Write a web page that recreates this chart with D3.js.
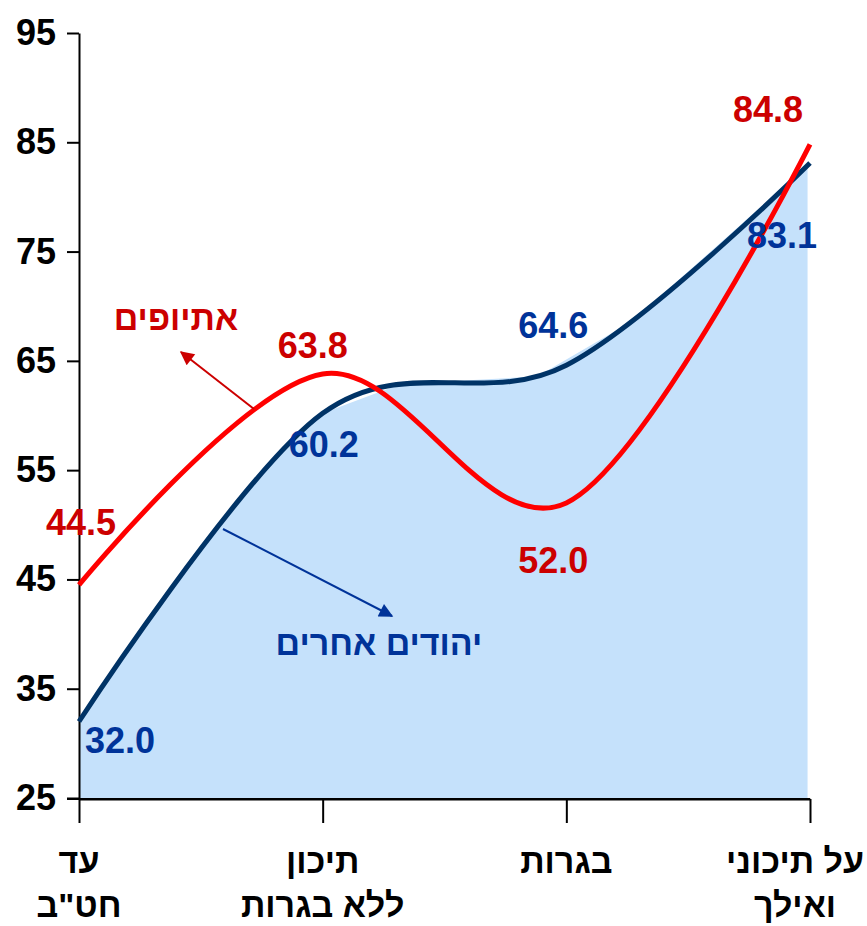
<!DOCTYPE html>
<html>
<head>
<meta charset="utf-8">
<script src="https://cdn.jsdelivr.net/npm/d3@7"></script>
<style>
  body { margin: 0; background: #fff; }
  svg { display: block; font-family: "Liberation Sans", Arial, sans-serif; font-weight: bold; }
</style>
</head>
<body>
<div id="chart"></div>
<script>
// Data
var categories = ['עד חט"ב', 'תיכון ללא בגרות', 'בגרות', 'על תיכוני ואילך'];
var categoryLines = [['עד', 'חט"ב'], ['תיכון', 'ללא בגרות'], ['בגרות'], ['על תיכוני', 'ואילך']];
var ethiopians = [44.5, 63.8, 52.0, 84.8];
var otherJews = [32.0, 60.2, 64.6, 83.1];
var yTicks = [25, 35, 45, 55, 65, 75, 85, 95];
var seriesNames = ['אתיופים', 'יהודים אחרים'];

// Setup
var width = 867, height = 926;
var x0 = 79, x1 = 810, yTop = 33, yBottom = 798;
var numFont = '36px', hebFont = '34px';

var svg = d3.select('#chart')
  .append('svg')
  .attr('width', width)
  .attr('height', height);

var x = d3.scalePoint()
  .domain(categories)
  .range([x0, x1])
  .padding(0);

var y = d3.scaleLinear()
  .domain([25, 95])
  .range([yBottom, yTop]);

// arrow heads
var defs = svg.append('defs');
[['arrowRed', '#cc0000'], ['arrowBlue', '#003399']].forEach(function(a){
  defs.append('marker')
    .attr('id', a[0])
    .attr('viewBox', '0 0 10 10')
    .attr('refX', 9).attr('refY', 5)
    .attr('markerWidth', 16).attr('markerHeight', 14)
    .attr('markerUnits', 'userSpaceOnUse')
    .attr('orient', 'auto')
    .append('path')
    .attr('d', 'M0,0L10,5L0,10Z')
    .attr('fill', a[1]);
});

var line = d3.line()
  .x(function(d,i){ return x(categories[i]); })
  .y(function(d){ return y(d); })
  .curve(d3.curveCardinal.tension(0));

// hidden copy of the blue curve, used to place the area's corners on it
var guide = svg.append('path')
  .attr('d', line(otherJews))
  .attr('fill', 'none')
  .attr('stroke', 'none')
  .node();

function curveYAt(px) {
  var lo = 0, hi = guide.getTotalLength();
  for (var k = 0; k < 40; k++) {
    var mid = (lo + hi) / 2;
    if (guide.getPointAtLength(mid).x < px) lo = mid; else hi = mid;
  }
  return guide.getPointAtLength(lo).y;
}

// the original area is a coarse polygon laid on the smooth curve
var areaKnots = [0, 0.15, 0.3, 0.45, 0.6, 0.75, 0.9, 1, 1.32, 1.88, 2.27, 2.99];
var step = x(categories[1]) - x(categories[0]);

var area = d3.area()
  .x(function(k){ return x0 + k * step; })
  .y0(y(25))
  .y1(function(k){ return curveYAt(x0 + k * step); })
  .curve(d3.curveLinear);

svg.append('path')
  .attr('d', area(areaKnots))
  .attr('fill', '#c5e1fb');

// Axes
var yAxis = d3.axisLeft(y)
  .tickValues(yTicks)
  .tickSize(12)
  .tickSizeOuter(0)
  .tickPadding(11);

var gy = svg.append('g')
  .attr('transform', 'translate(' + x0 + ',0)')
  .call(yAxis);
gy.select('.domain').attr('stroke', '#000').attr('stroke-width', 2);
gy.selectAll('.tick line').attr('stroke', '#000').attr('stroke-width', 2);
gy.selectAll('.tick text')
  .attr('fill', '#000')
  .style('font-size', numFont)
  .style('font-weight', 'bold')
  .style('font-family', '"Liberation Sans", Arial, sans-serif');

var xAxis = d3.axisBottom(x)
  .tickSize(24)
  .tickSizeOuter(0)
  .tickFormat('');

var gx = svg.append('g')
  .attr('transform', 'translate(0,' + (yBottom + 1) + ')')
  .call(xAxis);
gx.select('.domain').attr('stroke', '#000').attr('stroke-width', 2);
gx.selectAll('.tick line').attr('stroke', '#000').attr('stroke-width', 2);

// extend x axis line to the left tick
svg.append('line')
  .attr('x1', x0 - 12).attr('x2', x1)
  .attr('y1', yBottom + 1).attr('y2', yBottom + 1)
  .attr('stroke', '#000').attr('stroke-width', 2);

// Category labels (two lines, clamped so they stay on the page)
var catLabels = svg.selectAll('.cat-label')
  .data(categoryLines)
  .enter()
  .append('text')
  .attr('class', 'cat-label')
  .attr('direction', 'rtl')
  .attr('text-anchor', 'middle')
  .style('font-size', hebFont)
  .attr('fill', '#000');

catLabels.each(function(lines, i){
  var t = d3.select(this);
  lines.forEach(function(l, j){
    t.append('tspan')
      .attr('y', 873 + j * 44)
      .text(l);
  });
  var w = d3.max(t.selectAll('tspan').nodes(), function(n){ return n.getComputedTextLength(); });
  var cx = Math.min(x(categories[i]), width - 3 - w / 2);
  t.selectAll('tspan').attr('x', cx);
});

// Lines
svg.append('path')
  .attr('d', line(otherJews))
  .attr('fill', 'none')
  .attr('stroke', '#003366')
  .attr('stroke-width', 5);

svg.append('path')
  .attr('d', line(ethiopians))
  .attr('fill', 'none')
  .attr('stroke', '#ff0000')
  .attr('stroke-width', 5);

// Value labels: offset of the label (center, baseline) from its point
var redOffsets = [[2, -50], [-10, -16], [-13, 70], [-42, -22]];
var blueOffsets = [[41, 31], [1, 44], [-13, -27], [-28, 85]];

function valueLabels(values, offsets, color, cls) {
  svg.selectAll('.' + cls)
    .data(values)
    .enter()
    .append('text')
    .attr('class', cls)
    .attr('text-anchor', 'middle')
    .attr('x', function(d,i){ return x(categories[i]) + offsets[i][0]; })
    .attr('y', function(d,i){ return y(d) + offsets[i][1]; })
    .attr('fill', color)
    .style('font-size', numFont)
    .text(function(d){ return d3.format('.1f')(d); });
}
valueLabels(ethiopians, redOffsets, '#cc0000', 'lbl-red');
valueLabels(otherJews, blueOffsets, '#003399', 'lbl-blue');

// Series labels with arrows
svg.append('text')
  .attr('x', 176).attr('y', 330)
  .attr('text-anchor', 'middle')
  .attr('direction', 'rtl')
  .attr('fill', '#cc0000')
  .style('font-size', hebFont)
  .text(seriesNames[0]);

svg.append('line')
  .attr('x1', 254).attr('y1', 409)
  .attr('x2', 181).attr('y2', 352)
  .attr('stroke', '#cc0000').attr('stroke-width', 2)
  .attr('marker-end', 'url(#arrowRed)');

svg.append('text')
  .attr('x', 379).attr('y', 655)
  .attr('text-anchor', 'middle')
  .attr('direction', 'rtl')
  .attr('fill', '#003399')
  .style('font-size', hebFont)
  .text(seriesNames[1]);

svg.append('line')
  .attr('x1', 223).attr('y1', 529)
  .attr('x2', 392).attr('y2', 616)
  .attr('stroke', '#003399').attr('stroke-width', 2)
  .attr('marker-end', 'url(#arrowBlue)');
</script>
</body>
</html>
